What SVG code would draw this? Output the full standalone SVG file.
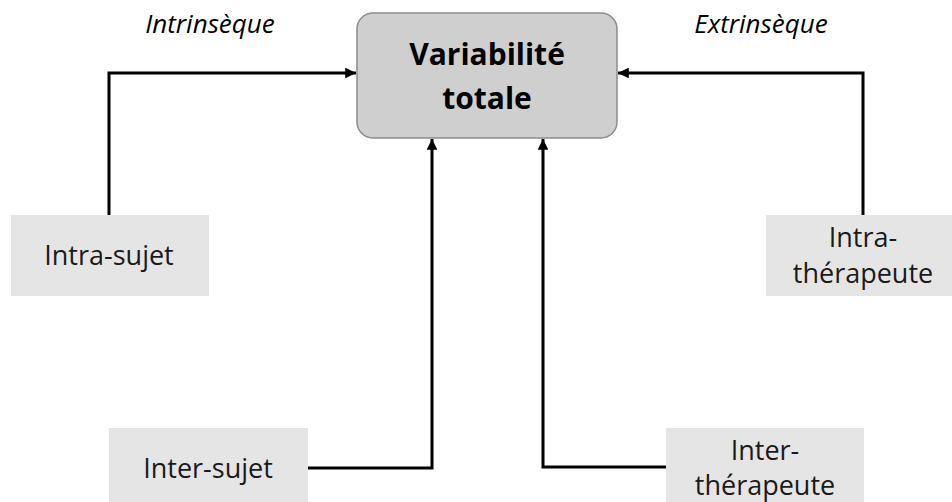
<svg xmlns="http://www.w3.org/2000/svg" width="952" height="502" viewBox="0 0 952 502">
  <defs>
    <marker id="arrow" viewBox="0 0 10 10" refX="10" refY="5" markerWidth="3.6" markerHeight="3.6" markerUnits="strokeWidth" orient="auto">
      <path d="M0,0 L10,5 L0,10 Z" fill="#000"/>
    </marker>
    <style>
      .box { fill: #e6e5e5; }
      .main { fill: #d0cfcf; stroke: #8c8c8c; stroke-width: 1.5; }
      .lbl { font-family: "Open Sans", "Noto Sans", sans-serif; font-size: 27px; fill: #1a1a1a; text-anchor: middle; }
      .title { font-family: "Open Sans", "Noto Sans", sans-serif; font-size: 30px; font-weight: bold; fill: #000; text-anchor: middle; }
      .side { font-family: "Open Sans", "Noto Sans", sans-serif; font-size: 26px; font-style: italic; fill: #000; text-anchor: middle; }
      .conn { fill: none; stroke: #000; stroke-width: 3; marker-end: url(#arrow); }
    </style>
  </defs>
  <rect width="952" height="502" fill="#fff"/>

  <!-- side captions -->
  <text class="side" x="210" y="33">Intrinsèque</text>
  <text class="side" x="761" y="33">Extrinsèque</text>

  <!-- connectors -->
  <g id="connectors">
    <path class="conn" d="M109,215 V73 H356"/>
    <path class="conn" d="M863,215 V73 H618"/>
    <path class="conn" d="M308,468 H432 V139"/>
    <path class="conn" d="M666,467 H543 V139"/>
  </g>

  <g id="total">
    <rect class="main" x="357" y="13" width="260" height="125" rx="16"/>
    <text class="title" x="487" y="65">Variabilité</text>
    <text class="title" x="487" y="109">totale</text>
  </g>

  <g id="intra-sujet">
    <rect class="box" x="11" y="215" width="198" height="81"/>
    <text class="lbl" x="109" y="265">Intra-sujet</text>
  </g>

  <g id="intra-therapeute">
    <rect class="box" x="766" y="215" width="186" height="81"/>
    <text class="lbl" x="863" y="247">Intra-</text>
    <text class="lbl" x="863" y="283">thérapeute</text>
  </g>

  <g id="inter-sujet">
    <rect class="box" x="109" y="428" width="199" height="74"/>
    <text class="lbl" x="208" y="478">Inter-sujet</text>
  </g>

  <g id="inter-therapeute">
    <rect class="box" x="666" y="428" width="198" height="74"/>
    <text class="lbl" x="765" y="460">Inter-</text>
    <text class="lbl" x="765" y="495">thérapeute</text>
  </g>
</svg>
